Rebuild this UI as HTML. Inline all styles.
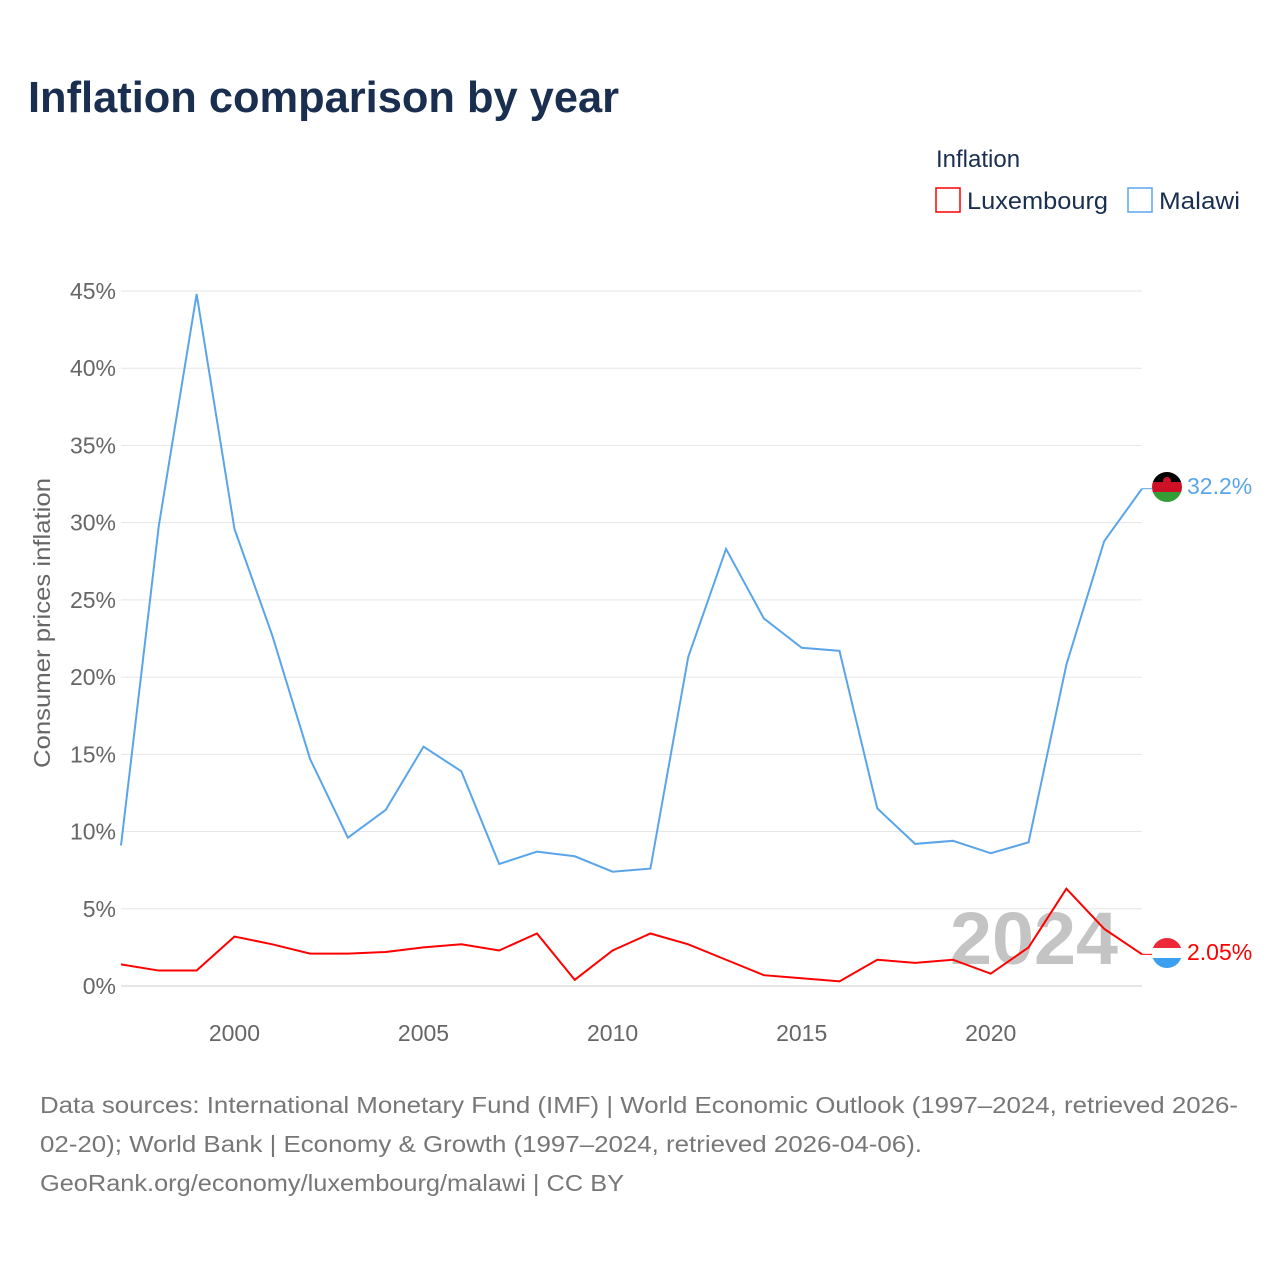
<!DOCTYPE html>
<html><head><meta charset="utf-8"><style>
body{margin:0;background:#fff;font-family:"Liberation Sans",sans-serif;}
svg text{font-family:"Liberation Sans",sans-serif;}
</style></head><body>
<svg id="chart" width="1280" height="1280" viewBox="0 0 1280 1280">
<rect width="1280" height="1280" fill="#fff"/>
<text x="28" y="112" font-size="44" font-weight="bold" fill="#1a2e4f" textLength="591" lengthAdjust="spacingAndGlyphs">Inflation comparison by year</text>
<g>
<text x="936" y="167" font-size="24" fill="#1a2e4f">Inflation</text>
<g><rect x="936" y="188" width="24" height="24" fill="none" stroke="#ff0000" stroke-width="1.5"/><text x="967" y="209" font-size="24" fill="#1a2e4f" textLength="141" lengthAdjust="spacingAndGlyphs">Luxembourg</text></g>
<g><rect x="1128" y="188" width="24" height="24" fill="none" stroke="#5aa5ea" stroke-width="1.5"/><text x="1159" y="209" font-size="24" fill="#1a2e4f" textLength="81" lengthAdjust="spacingAndGlyphs">Malawi</text></g>
</g>
<g id="grid"></g><g id="yticks"></g><g id="xticks"></g>
<text transform="translate(50,623) rotate(-90)" text-anchor="middle" font-size="23" fill="#666" textLength="290" lengthAdjust="spacingAndGlyphs">Consumer prices inflation</text>
<text x="950" y="964" font-size="74" font-weight="bold" fill="#c4c4c4" textLength="168" lengthAdjust="spacingAndGlyphs">2024</text>
<g id="series"></g>
<g>
<clipPath id="c1"><circle cx="1167" cy="487" r="15"/></clipPath>
<g clip-path="url(#c1)"><rect x="1150" y="472" width="34" height="10" fill="#000"/><rect x="1150" y="482" width="34" height="10" fill="#ce1126"/><rect x="1150" y="492" width="34" height="12" fill="#339e35"/><circle cx="1167" cy="481" r="4" fill="#ce1126"/></g></g>
<g>
<clipPath id="c2"><circle cx="1167" cy="953" r="15"/></clipPath>
<g clip-path="url(#c2)"><rect x="1150" y="938" width="34" height="10" fill="#ed2939"/><rect x="1150" y="948" width="34" height="10" fill="#fff"/><rect x="1150" y="958" width="34" height="12" fill="#3d9ff0"/></g></g>
<text x="1187" y="494" font-size="23" fill="#5aa5ea">32.2%</text>
<text x="1187" y="960" font-size="23" fill="#ff0000">2.05%</text>
<g font-size="23" fill="#777">
<text x="40" y="1113" textLength="1198" lengthAdjust="spacingAndGlyphs">Data sources: International Monetary Fund (IMF) | World Economic Outlook (1997–2024, retrieved 2026-</text>
<text x="40" y="1152" textLength="882" lengthAdjust="spacingAndGlyphs">02-20); World Bank | Economy &amp; Growth (1997–2024, retrieved 2026-04-06).</text>
<text x="40" y="1191" textLength="584" lengthAdjust="spacingAndGlyphs">GeoRank.org/economy/luxembourg/malawi | CC BY</text>
</g>
</svg>
<script>
const years=[1997,1998,1999,2000,2001,2002,2003,2004,2005,2006,2007,2008,2009,2010,2011,2012,2013,2014,2015,2016,2017,2018,2019,2020,2021,2022,2023,2024];
const malawi=[9.1,29.8,44.8,29.6,22.7,14.7,9.6,11.4,15.5,13.9,7.9,8.7,8.4,7.4,7.6,21.3,28.3,23.8,21.9,21.7,11.5,9.2,9.4,8.6,9.3,20.8,28.8,32.2];
const luxembourg=[1.4,1.0,1.0,3.2,2.7,2.1,2.1,2.2,2.5,2.7,2.3,3.4,0.4,2.3,3.4,2.7,1.7,0.7,0.5,0.3,1.7,1.5,1.7,0.8,2.5,6.3,3.7,2.05];
const yTicks=[0,5,10,15,20,25,30,35,40,45];
const xTicks=[2000,2005,2010,2015,2020];
const NS="http://www.w3.org/2000/svg";
const x=v=>121+(v-1997)*(1142-121)/27;
const y=v=>986-v*(986-291)/45;
function mk(t,a,p){const e=document.createElementNS(NS,t);for(const k in a)e.setAttribute(k,a[k]);p.appendChild(e);return e;}
const grid=document.getElementById('grid'),yt=document.getElementById('yticks'),xt=document.getElementById('xticks'),ser=document.getElementById('series');
yTicks.forEach(v=>{
const l=mk('line',{x1:121,x2:1142,y1:y(v),y2:y(v),stroke:v===0?'#ccc':'#e6e6e6','stroke-width':1},grid);


const t=mk('text',{x:116,y:y(v)+8,'text-anchor':'end','font-size':23,fill:'#666'},yt);
t.textContent=v+'%';


});
xTicks.forEach(v=>{
const t=mk('text',{x:x(v),y:1041,'text-anchor':'middle','font-size':23,fill:'#666'},xt);
t.textContent=v;


});
function line(vals,col,name){
const p=mk('polyline',{points:vals.map((v,i)=>x(years[i])+','+y(v)).join(' '),fill:'none',stroke:col,'stroke-width':2},ser);


const last=vals[vals.length-1];
mk('line',{x1:x(2024),x2:1152,y1:y(last),y2:y(last),stroke:col,'stroke-width':1},ser);
}
line(malawi,'#5aa5ea','malawi-line');
line(luxembourg,'#ff0000','luxembourg-line');
</script>
</body></html>
